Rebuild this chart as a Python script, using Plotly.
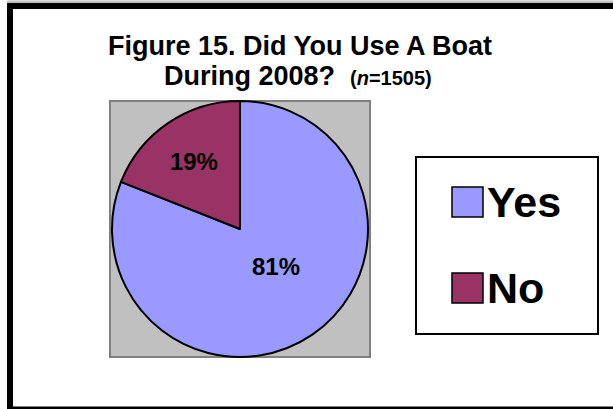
import plotly.graph_objects as go

# ---- data ----
labels = ["Yes", "No"]
values = [81, 19]
colors = ["#9999FF", "#993366"]
title_line1 = "Figure 15. Did You Use A Boat"
title_line2 = "During 2008?"
sample_note = "(<i>n</i>=1505)"

W, H = 613, 409
FONT = "Liberation Sans, Arial, sans-serif"


def px(x):
    return x / W


def py(y):
    return 1 - y / H


def rect(x0, y0, x1, y1, fill, line_color=None, line_width=0, layer="below"):
    return dict(type="rect", xref="paper", yref="paper",
                x0=px(x0), x1=px(x1), y0=py(y1), y1=py(y0),
                fillcolor=fill, layer=layer,
                line=dict(color=line_color or fill, width=line_width))


fig = go.Figure()

fig.add_trace(go.Pie(
    labels=labels,
    values=values,
    sort=False,
    direction="clockwise",
    rotation=0,
    marker=dict(colors=colors, line=dict(color="black", width=2)),
    texttemplate=["%{percent}<br>\u00a0", "%{percent}"],
    textposition="inside",
    insidetextorientation="horizontal",
    textfont=dict(family=FONT, size=24, color="black", weight="bold"),
    domain=dict(x=[px(110), px(370)], y=[py(357), py(101)]),
    showlegend=False,
    hoverinfo="label+percent",
))

shapes = [
    # outer frame
    rect(7, 0.5, 620, 3, "#BFBFBF"),
    rect(7, 3, 13, 412, "black"),
    rect(7, 3, 620, 9, "black"),
    rect(7, 406.5, 620, 412, "black"),
    # gray plot area
    rect(110, 101, 370, 357, "#C0C0C0", "#808080", 2),
    # legend box
    rect(416, 157, 598, 334, "white", "black", 2),
]

annotations = [
    dict(text="<b>" + title_line1 + "</b>", x=px(300), y=py(46),
         xref="paper", yref="paper", xanchor="center", yanchor="middle",
         showarrow=False, font=dict(family=FONT, size=27, color="black")),
    dict(text="<b>" + title_line2 + "\u00a0\u00a0<span style='font-size:20px'>" + sample_note + "</span></b>",
         x=px(298), y=py(76),
         xref="paper", yref="paper", xanchor="center", yanchor="middle",
         showarrow=False, font=dict(family=FONT, size=27, color="black")),
]

# hand-drawn legend (large swatches as in the reference)
for i, (lab, col) in enumerate(zip(labels, colors)):
    cy = 202 + i * 86
    shapes.append(rect(452, cy - 15, 483, cy + 15, col, "black", 1.5, layer="above"))
    annotations.append(dict(
        text="<b>" + lab + "</b>", x=px(485), y=py(cy),
        xref="paper", yref="paper", xanchor="left", yanchor="middle",
        showarrow=False, font=dict(family=FONT, size=43, color="black")))

fig.update_layout(
    width=W, height=H,
    margin=dict(l=0, r=0, t=0, b=0),
    paper_bgcolor="white",
    plot_bgcolor="white",
    shapes=shapes,
    annotations=annotations,
    showlegend=False,
)

fig.write_html("out.html", config={"displayModeBar": False},
               post_script="document.body.style.margin='0';")
